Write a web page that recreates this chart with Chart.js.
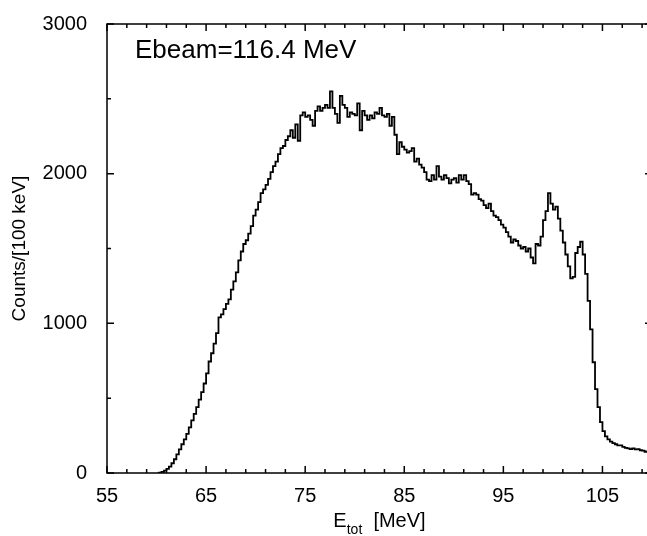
<!DOCTYPE html>
<html>
<head>
<meta charset="utf-8">
<script src="https://cdn.jsdelivr.net/npm/chart.js@4/dist/chart.umd.min.js"></script>
<style>
    html, body { margin: 0; padding: 0; background: #fff; overflow: hidden; }
    #wrap { position: relative; width: 660px; height: 536px; }
</style>
</head>
<body>
<div id="wrap"><canvas id="spectrum"></canvas></div>
<script>
// histogram bins, 0.25 MeV wide, starting at 60 MeV
const binStart = 60.0;
const binWidth = 0.25;
const counts = [
    0, 3, 8, 16, 28, 42, 65, 92,
    125, 158, 192, 225, 262, 305, 352, 395,
    440, 490, 540, 598, 665, 745, 800, 865,
    935, 1040, 1060, 1095, 1130, 1160, 1225, 1280,
    1340, 1420, 1480, 1530, 1555, 1600, 1650, 1720,
    1760, 1810, 1870, 1895, 1925, 1965, 2010, 2050,
    2080, 2130, 2170, 2185, 2225, 2250, 2290, 2240,
    2330, 2220, 2390, 2410, 2380, 2390, 2360, 2320,
    2420, 2450, 2420, 2440, 2460, 2440, 2550, 2440,
    2400, 2340, 2520, 2460, 2440, 2380, 2410, 2400,
    2390, 2470, 2290, 2420, 2390, 2360, 2390, 2370,
    2410, 2400, 2440, 2390, 2380, 2400, 2320, 2380,
    2260, 2130, 2210, 2180, 2160, 2140, 2150, 2170,
    2080, 2100, 2060, 2040, 2010, 1960, 1950, 1990,
    1960, 2050, 1980, 1960, 1990, 1970, 1935, 1960,
    1970, 1940, 1990, 1960, 1990, 1950, 1930, 1860,
    1870, 1860, 1830, 1820, 1790, 1770, 1800, 1750,
    1720, 1710, 1690, 1660, 1640, 1610, 1580, 1540,
    1560, 1550, 1520, 1500, 1510, 1480, 1500, 1440,
    1400, 1530, 1520, 1580, 1690, 1750, 1870, 1800,
    1760, 1780, 1700, 1620, 1540, 1460, 1380, 1300,
    1310, 1470, 1510, 1545, 1460, 1330, 1150, 960,
    740, 560, 440, 340, 280, 245, 225, 210,
    200, 192, 185, 185, 175, 168, 165, 160,
    165, 158, 160, 152, 150, 142, 145, 140
];

const xLabelTicks = [55, 65, 75, 85, 95, 105];
const yLabelTicks = [0, 1000, 2000, 3000];
const beamLabel = 'Ebeam=116.4 MeV';
const yTitle = 'Counts/[100 keV]';

const points = counts.map((c, i) => ({ x: binStart + (i + 0.5) * binWidth, y: c }));

const fontFamily = '"Liberation Sans", Arial, sans-serif';

// frame with inward ticks, beam label and E_tot axis title
const framePlugin = {
    id: 'frame',
    afterDraw(chart) {
        const { ctx, chartArea: a, scales: { x, y } } = chart;
        ctx.save();
        ctx.strokeStyle = '#000';
        ctx.lineWidth = 1.5;
        ctx.beginPath();
        ctx.moveTo(a.right, a.top);
        ctx.lineTo(a.left, a.top);
        ctx.lineTo(a.left, a.bottom);
        ctx.lineTo(a.right, a.bottom);
        ctx.lineTo(a.right, a.top);
        ctx.stroke();

        ctx.lineWidth = 1.5;
        ctx.beginPath();
        for (let v = 55; v <= 110; v += 2) {
            const px = x.getPixelForValue(v);
            const len = xLabelTicks.includes(v) ? 7 : 4;
            ctx.moveTo(px, a.bottom);
            ctx.lineTo(px, a.bottom - len);
            ctx.moveTo(px, a.top);
            ctx.lineTo(px, a.top + len);
        }
        for (let v = 0; v <= 3000; v += 500) {
            const py = y.getPixelForValue(v);
            const len = yLabelTicks.includes(v) ? 7 : 4;
            ctx.moveTo(a.left, py);
            ctx.lineTo(a.left + len, py);
            ctx.moveTo(a.right, py);
            ctx.lineTo(a.right - len, py);
        }
        ctx.stroke();

        ctx.fillStyle = '#000';
        ctx.font = '26px ' + fontFamily;
        ctx.textBaseline = 'alphabetic';
        ctx.textAlign = 'left';
        ctx.fillText(beamLabel, 135, 58);

        // E_tot [MeV]
        const cx = (a.left + a.right) / 2;
        ctx.font = '20px ' + fontFamily;
        const wE = ctx.measureText('E').width;
        const wU = ctx.measureText('  [MeV]').width;
        ctx.font = '14px ' + fontFamily;
        const wSub = ctx.measureText('tot').width;
        const left = cx - (wE + wSub + wU) / 2;
        ctx.font = '20px ' + fontFamily;
        ctx.fillText('E', left, 527);
        ctx.font = '14px ' + fontFamily;
        ctx.fillText('tot', left + wE, 534);
        ctx.font = '20px ' + fontFamily;
        ctx.fillText('  [MeV]', left + wE + wSub, 527);
        ctx.restore();
    }
};

const ctx = document.getElementById('spectrum').getContext('2d');
const spectrumChart = new Chart(ctx, {
    type: 'line',
    data: {
        datasets: [{
            data: points,
            borderColor: '#000',
            borderWidth: 1.8,
            pointRadius: 0,
            stepped: 'middle',
            fill: false
        }]
    },
    options: {
        responsive: true,
        maintainAspectRatio: false,
        animation: false,
        layout: { padding: { top: 21, right: 8, left: 0, bottom: 0 } },
        plugins: {
            legend: { display: false },
            tooltip: { enabled: false }
        },
        scales: {
            x: {
                type: 'linear',
                min: 55,
                max: 110,
                grid: { display: false },
                border: { display: false },
                afterFit: function (scale) { scale.height = 63; },
                afterBuildTicks: function (scale) {
                    scale.ticks = xLabelTicks.map(v => ({ value: v }));
                },
                ticks: {
                    padding: 3,
                    color: '#000',
                    font: { family: fontFamily, size: 20 },
                    maxRotation: 0,
                    autoSkip: false,
                    callback: function (value) { return String(value); }
                }
            },
            y: {
                type: 'linear',
                min: 0,
                max: 3000,
                grid: { display: false },
                border: { display: false },
                afterFit: function (scale) { scale.width = 107; },
                afterBuildTicks: function (scale) {
                    scale.ticks = yLabelTicks.map(v => ({ value: v }));
                },
                ticks: {
                    padding: 12,
                    color: '#000',
                    font: { family: fontFamily, size: 20 },
                    callback: function (value) { return String(value); }
                },
                title: {
                    display: true,
                    text: yTitle,
                    color: '#000',
                    font: { family: fontFamily, size: 19 },
                    padding: { top: 8, bottom: 0 }
                }
            }
        }
    },
    plugins: [framePlugin]
});
</script>
</body>
</html>
